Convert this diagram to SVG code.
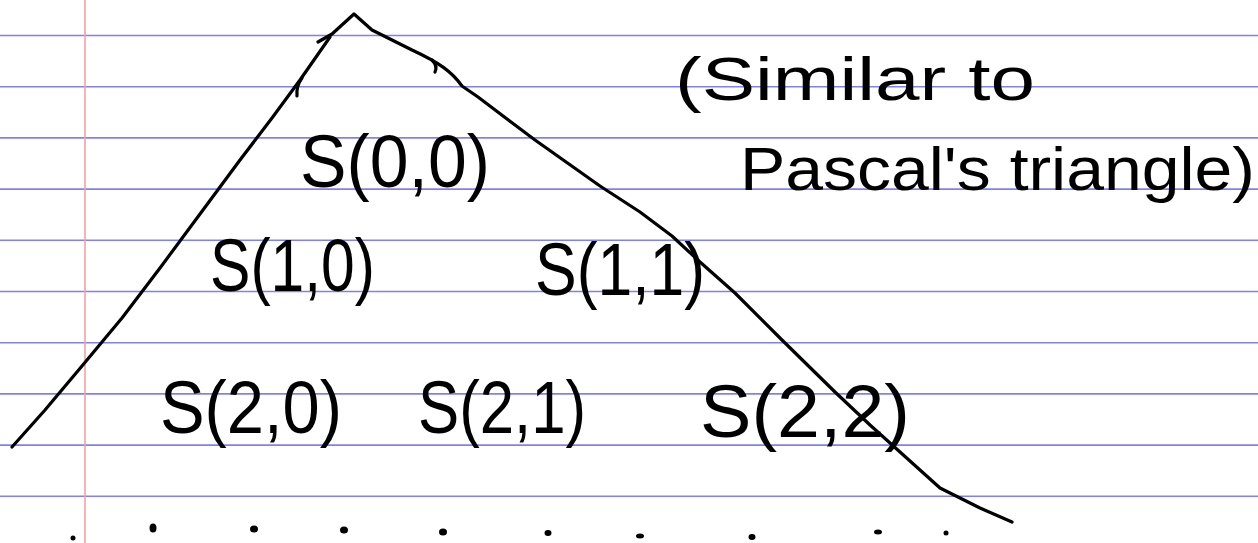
<svg xmlns="http://www.w3.org/2000/svg" width="1258" height="543" viewBox="0 0 1258 543">
<style>
.rule{stroke:#8080f4;stroke-width:1.6}
.margin{stroke:#f7a0a0;stroke-width:1.6}
.ink{fill:none;stroke:#000;stroke-width:3.2;stroke-linecap:round;stroke-linejoin:round}
.lbl{font-family:"Liberation Sans",Arial,sans-serif;fill:#000;font-size:74px}
.note{font-family:"Liberation Sans",Arial,sans-serif;fill:#000;font-size:62px}
.dot{fill:#000}
</style>
<rect width="1258" height="543" fill="#fff"/>
<g id="paper">
<line class="rule" x1="0" y1="35.5" x2="1258" y2="35.5"/>
<line class="rule" x1="0" y1="86.7" x2="1258" y2="86.7"/>
<line class="rule" x1="0" y1="137.9" x2="1258" y2="137.9"/>
<line class="rule" x1="0" y1="189.1" x2="1258" y2="189.1"/>
<line class="rule" x1="0" y1="240.3" x2="1258" y2="240.3"/>
<line class="rule" x1="0" y1="291.5" x2="1258" y2="291.5"/>
<line class="rule" x1="0" y1="342.7" x2="1258" y2="342.7"/>
<line class="rule" x1="0" y1="393.9" x2="1258" y2="393.9"/>
<line class="rule" x1="0" y1="445.1" x2="1258" y2="445.1"/>
<line class="rule" x1="0" y1="496.3" x2="1258" y2="496.3"/>
<line class="margin" x1="85" y1="0" x2="85" y2="543"/>
</g>
<g id="connectors">
<path class="ink" d="M12 447 L45 410 L82 366 L122 318 L160 268 L200 214 L240 160 L272 118 L300 80 L330 37"/>
<path class="ink" d="M318 42 L332 34 L354 14 L372 30 L412 50 C440 63 452 72 462 86 L478 97 L535 140 L600 186 L640 212 L672 236 L700 262 L735 293 L782 340 L835 392 L870 425 L900 452 L940 488 L980 508 L1012 522"/>
<path class="ink" d="M302 78 Q296 86 297 96"/>
<path class="ink" d="M432 60 Q438 66 435 72"/>
</g>
<g id="node-s00"><text class="lbl" x="300" y="187" textLength="190" lengthAdjust="spacingAndGlyphs">S(0,0)</text></g>
<g id="node-s10"><text class="lbl" x="210" y="291" textLength="165" lengthAdjust="spacingAndGlyphs">S(1,0)</text></g>
<g id="node-s11"><text class="lbl" x="535" y="295" textLength="170" lengthAdjust="spacingAndGlyphs">S(1,1)</text></g>
<g id="node-s20"><text class="lbl" x="160" y="433" textLength="182" lengthAdjust="spacingAndGlyphs">S(2,0)</text></g>
<g id="node-s21"><text class="lbl" x="418" y="433" textLength="168" lengthAdjust="spacingAndGlyphs">S(2,1)</text></g>
<g id="node-s22"><text class="lbl" x="700" y="437" textLength="210" lengthAdjust="spacingAndGlyphs">S(2,2)</text></g>
<g id="note">
<text class="note" x="675" y="100" textLength="360" lengthAdjust="spacingAndGlyphs">(Similar to</text>
<text class="note" x="740" y="190" textLength="515" lengthAdjust="spacingAndGlyphs">Pascal's triangle)</text>
</g>
<g id="dots">
<ellipse class="dot" cx="73" cy="538" rx="2.5" ry="2.5"/>
<ellipse class="dot" cx="153" cy="528" rx="3.5" ry="4.5"/>
<ellipse class="dot" cx="254" cy="529" rx="4" ry="3.5"/>
<ellipse class="dot" cx="344" cy="530" rx="4" ry="3.5"/>
<ellipse class="dot" cx="443" cy="532" rx="4" ry="3.5"/>
<ellipse class="dot" cx="548" cy="533" rx="3.5" ry="3"/>
<ellipse class="dot" cx="640" cy="536" rx="4" ry="2.5"/>
<ellipse class="dot" cx="752" cy="537" rx="3.5" ry="3"/>
<ellipse class="dot" cx="878" cy="532" rx="4" ry="2.5"/>
<ellipse class="dot" cx="946" cy="533" rx="2.5" ry="2.5"/>
</g>
</svg>
